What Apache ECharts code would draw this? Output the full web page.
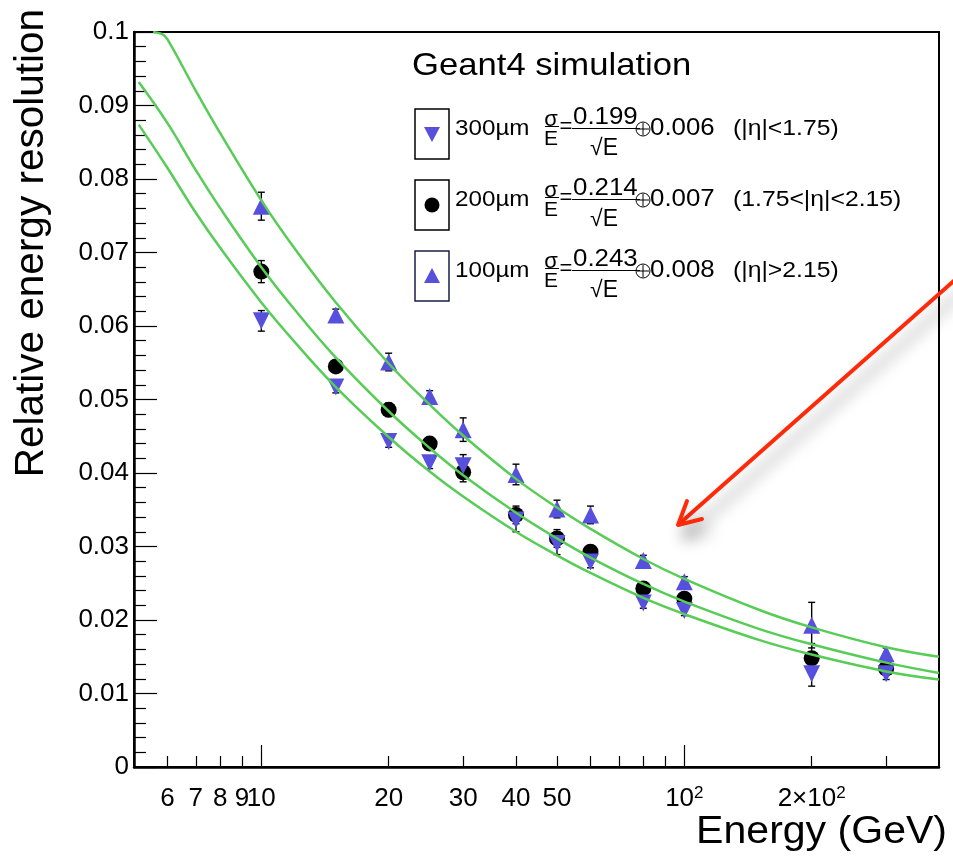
<!DOCTYPE html>
<html><head><meta charset="utf-8">
<script src="https://cdn.jsdelivr.net/npm/echarts@6/dist/echarts.min.js"></script>
<style>html,body{margin:0;padding:0;background:#fff}#c{width:953px;height:858px}</style>
</head><body><div id="c"></div>
<script>
// ---- data ----
const energies = [10, 15, 20, 25, 30, 40, 50, 60, 80, 100, 200, 300];
const res300 = [0.0607, 0.0517, 0.0443, 0.0414, 0.0410, 0.0336, 0.0304, 0.0279, 0.0223, 0.0213, 0.0127, 0.0127];
const err300 = [0.0014, 0.0008, 0.0008, 0.0008, 0.0015, 0.0016, 0.0015, 0.0008, 0.0007, 0.0007, 0.0017, 0.0008];
const res200 = [0.0674, 0.0545, 0.0486, 0.0440, 0.0401, 0.0343, 0.0311, 0.0293, 0.0243, 0.0229, 0.0148, 0.0134];
const err200 = [0.0015, 0.0008, 0.0009, 0.0008, 0.0013, 0.0012, 0.0012, 0.0008, 0.0007, 0.0007, 0.0020, 0.0008];
const res100 = [0.0763, 0.0615, 0.0551, 0.0504, 0.0459, 0.0398, 0.0351, 0.0343, 0.0281, 0.0252, 0.0193, 0.0154];
const err100 = [0.0019, 0.0008, 0.0012, 0.0008, 0.0016, 0.0014, 0.0012, 0.0012, 0.0007, 0.0007, 0.0031, 0.0008];

// fitted curves
const fit100E = [5.55, 5.83, 6, 7, 8, 10, 12, 15, 20, 25, 30, 40, 50, 60, 80, 100, 150, 200, 300, 400];
const fit100 = [0.1, 0.0997, 0.0990, 0.0920, 0.0862, 0.0771, 0.0705, 0.0632, 0.0549, 0.0493, 0.0451, 0.0392, 0.0353, 0.0324, 0.0283, 0.0256, 0.0214, 0.0190, 0.0163, 0.0150];
const fitE = [5.13, 6, 7, 8, 10, 12, 15, 20, 25, 30, 40, 50, 60, 80, 100, 150, 200, 300, 400];
const fit200 = [0.0932, 0.0876, 0.0812, 0.0760, 0.0680, 0.0622, 0.0557, 0.0484, 0.0434, 0.0397, 0.0346, 0.0311, 0.0285, 0.0249, 0.0225, 0.0188, 0.0167, 0.0142, 0.0128];
const fit300 = [0.0874, 0.0815, 0.0754, 0.0706, 0.0632, 0.0578, 0.0517, 0.0449, 0.0402, 0.0368, 0.0320, 0.0288, 0.0264, 0.0230, 0.0208, 0.0173, 0.0153, 0.0130, 0.0119];

// axis ticks / labels
const xMajorTicks = [10, 100];
const xMinorTicks = [6, 7, 8, 9, 20, 30, 40, 50, 60, 70, 80, 90, 200, 300];
const xLabelValues = [6, 7, 8, 9, 10, 20, 30, 40, 50, 100, 200];

// legend texts
const legendTitle = 'Geant4 simulation';
const legendLabels = ['300µm', '200µm', '100µm'];
const stochTerms = ['0.199', '0.214', '0.243'];
const constTerms = ['0.006', '0.007', '0.008'];
const etaRanges = ['(|η|<1.75)', '(1.75<|η|<2.15)', '(|η|>2.15)'];

// ---- rendering ----
const FONT = '"Liberation Sans", Arial, Helvetica, sans-serif';
const BLUE = '#5650dc';
const GREEN = '#57cc57';
const chart = echarts.init(document.getElementById('c'), null, {renderer: 'canvas'});

function pairs(xs, ys) { return xs.map((x, i) => [x, ys[i]]); }
function errData(ys, es) { return energies.map((x, i) => [x, ys[i] - es[i], ys[i] + es[i]]); }
function fmtX(v) {
  if (Math.abs(v - 100) < 1e-6) return '{a|10}{s|2}';
  if (Math.abs(v - 200) < 1e-6) return '{a|2×10}{s|2}';
  return '{a|' + v + '}';
}
function errSeries(name, ys, es) {
  return {
    type: 'custom', name: name, z: 2, silent: true,
    data: errData(ys, es),
    encode: {x: 0, y: [1, 2]},
    renderItem: function (params, api) {
      const x = api.value(0);
      const p1 = api.coord([x, api.value(1)]);
      const p2 = api.coord([x, api.value(2)]);
      const st = {stroke: '#000', lineWidth: 1.4};
      const cw = 3.5;
      return {type: 'group', children: [
        {type: 'line', shape: {x1: p1[0], y1: p1[1], x2: p2[0], y2: p2[1]}, style: st},
        {type: 'line', shape: {x1: p1[0] - cw, y1: p1[1], x2: p1[0] + cw, y2: p1[1]}, style: st},
        {type: 'line', shape: {x1: p2[0] - cw, y1: p2[1], x2: p2[0] + cw, y2: p2[1]}, style: st}
      ]};
    }
  };
}
function lineSeries(name, xs, ys) {
  return {type: 'line', name: name, data: pairs(xs, ys), smooth: 0.4, showSymbol: false, symbol: 'none',
    lineStyle: {color: GREEN, width: 2.5}, z: 6, silent: true, animation: false};
}

const rowY = [134, 205, 276];
const graphics = [];
function txt(x, y, text, size, align, extra) {
  return Object.assign({type: 'text', x: x, y: y, scaleX: 1.1, z: 50,
    style: {text: text, fontFamily: FONT, fontSize: size, fill: '#000', align: align || 'left', verticalAlign: 'middle'}}, extra || {});
}
graphics.push(txt(412, 66, legendTitle, 31.5));
rowY.forEach((cy, i) => {
  graphics.push({type: 'rect', z: 50, shape: {x: 415, y: cy - 25, width: 34, height: 50},
    style: {fill: '#fff', stroke: i === 2 ? '#1c1c48' : '#000', lineWidth: 1.5}});
  if (i === 1) {
    graphics.push({type: 'circle', z: 51, shape: {cx: 432, cy: cy, r: 7.5}, style: {fill: '#000'}});
  } else if (i === 0) {
    graphics.push({type: 'polygon', z: 51, shape: {points: [[424, cy - 7], [440, cy - 7], [432, cy + 8]]}, style: {fill: BLUE}});
  } else {
    graphics.push({type: 'polygon', z: 51, shape: {points: [[424, cy + 7], [440, cy + 7], [432, cy - 8]]}, style: {fill: BLUE}});
  }
  graphics.push(txt(455, cy - 5, legendLabels[i], 22));
  graphics.push(txt(551, cy - 14, 'σ', 22, 'center', {scaleX: 1}));
  graphics.push({type: 'line', z: 50, shape: {x1: 545, y1: cy - 7.5, x2: 559, y2: cy - 7.5}, style: {stroke: '#000', lineWidth: 1}});
  graphics.push(txt(551, cy + 5, 'E', 21, 'center', {scaleX: 1}));
  graphics.push(txt(566, cy - 7, '=', 22, 'center', {scaleX: 1}));
  graphics.push(txt(573, cy - 16, stochTerms[i], 23.5));
  graphics.push({type: 'line', z: 50, shape: {x1: 572, y1: cy - 5.5, x2: 640, y2: cy - 5.5}, style: {stroke: '#000', lineWidth: 1}});
  graphics.push(txt(604, cy + 15, '√E', 23, 'center', {scaleX: 1}));
  graphics.push({type: 'circle', z: 50, shape: {cx: 643, cy: cy - 5, r: 7}, style: {fill: null, stroke: '#000', lineWidth: 1}});
  graphics.push({type: 'line', z: 50, shape: {x1: 637, y1: cy - 5, x2: 649, y2: cy - 5}, style: {stroke: '#000', lineWidth: 1}});
  graphics.push({type: 'line', z: 50, shape: {x1: 643, y1: cy - 11, x2: 643, y2: cy + 1}, style: {stroke: '#000', lineWidth: 1}});
  graphics.push(txt(650, cy - 5, constTerms[i], 23.5));
  graphics.push(txt(733, cy - 5, etaRanges[i], 22.5));
});
// axis titles
graphics.push({type: 'text', x: 947, y: 833, scaleX: 1.08, z: 50,
  style: {text: 'Energy (GeV)', fontFamily: FONT, fontSize: 38, fill: '#000', align: 'right', verticalAlign: 'middle'}});
graphics.push({type: 'text', x: 32, y: 9, rotation: Math.PI / 2, z: 50,
  style: {text: 'Relative energy resolution', fontFamily: FONT, fontSize: 40.5, fill: '#000', align: 'right', verticalAlign: 'middle'}});
// red arrow with shadow
const arrowStyle = {stroke: '#ff2a0a', lineWidth: 4, fill: null, lineCap: 'round', lineJoin: 'round',
  shadowBlur: 16, shadowColor: 'rgba(0,0,0,0.4)', shadowOffsetX: 7, shadowOffsetY: 12};
graphics.push({type: 'polyline', z: 60, shape: {points: [[956, 279], [679, 524]]}, style: arrowStyle});
graphics.push({type: 'polyline', z: 60, shape: {points: [[687, 501], [678, 525], [702, 519]]}, style: arrowStyle});

const option = {
  backgroundColor: '#fff',
  animation: false,
  grid: {left: 134, right: 14, top: 32, bottom: 91, show: true, borderColor: '#000', borderWidth: 2,
    backgroundColor: 'transparent', outerBoundsMode: 'none', containLabel: false},
  xAxis: [
    {type: 'log', min: 5, max: 400, position: 'bottom', gridIndex: 0,
      axisLine: {show: true, lineStyle: {color: '#000', width: 2.5}},
      axisTick: {show: true, inside: true, length: 11, customValues: xMinorTicks, lineStyle: {color: '#000', width: 1.2}},
      axisLabel: {show: true, customValues: xLabelValues, margin: 18, formatter: fmtX,
        rich: {a: {fontFamily: FONT, fontSize: 26, lineHeight: 28, color: '#000'},
               s: {fontFamily: FONT, fontSize: 17, lineHeight: 16, verticalAlign: 'top', color: '#000'}}},
      splitLine: {show: false}, minorTick: {show: false}},
    {type: 'log', min: 5, max: 400, position: 'bottom', gridIndex: 0,
      axisLine: {show: false},
      axisTick: {show: true, inside: true, length: 22, customValues: xMajorTicks, lineStyle: {color: '#000', width: 1.2}},
      axisLabel: {show: false}, splitLine: {show: false}}
  ],
  yAxis: {type: 'value', min: 0, max: 0.1, interval: 0.01,
    axisLine: {show: true, lineStyle: {color: '#000', width: 2.5}},
    axisTick: {show: true, inside: true, length: 23, lineStyle: {color: '#000', width: 1.2}},
    minorTick: {show: true, splitNumber: 5, length: 12, lineStyle: {color: '#000', width: 1.2}},
    axisLabel: {fontFamily: FONT, fontSize: 26, color: '#000', margin: 5,
      formatter: v => (v === 0 ? '0' : String(+v.toFixed(3)))},
    splitLine: {show: false}},
  series: [
    errSeries('err200', res200, err200),
    errSeries('err300', res300, err300),
    errSeries('err100', res100, err100),
    {type: 'scatter', name: '200µm', data: pairs(energies, res200), symbol: 'circle', symbolSize: 16,
      itemStyle: {color: '#000', opacity: 1}, z: 3},
    {type: 'scatter', name: '300µm', data: pairs(energies, res300), symbol: 'triangle', symbolSize: 17, symbolRotate: 180,
      itemStyle: {color: BLUE, opacity: 1}, z: 4},
    {type: 'scatter', name: '100µm', data: pairs(energies, res100), symbol: 'triangle', symbolSize: 17,
      itemStyle: {color: BLUE, opacity: 1}, z: 5},
    lineSeries('fit 100µm', fit100E, fit100),
    lineSeries('fit 200µm', fitE, fit200),
    lineSeries('fit 300µm', fitE, fit300)
  ],
  graphic: graphics
};
chart.setOption(option);
</script></body></html>
